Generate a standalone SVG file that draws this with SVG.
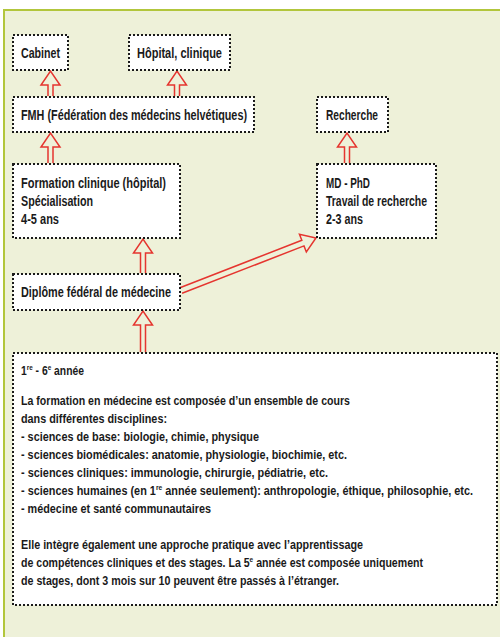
<svg xmlns="http://www.w3.org/2000/svg" width="500" height="637" viewBox="0 0 500 637">
<style>
.bg{fill:#eef1d9;stroke:#b2c63c;stroke-width:2}
.box{fill:#ffffff;stroke:#1a1a1a;stroke-width:2;stroke-dasharray:2 2}
.t{font-family:"Liberation Sans",Arial,sans-serif;font-weight:bold;font-size:14px;fill:#1a1a1a}
.b{font-family:"Liberation Sans",Arial,sans-serif;font-weight:bold;font-size:13px;fill:#1a1a1a}
.sup{font-size:8px;baseline-shift:5px}
.arr{fill:none;stroke:#e5352f;stroke-width:1.5;stroke-linejoin:miter}
</style>
<rect class="bg" x="4" y="10" width="520" height="650"/>
<g id="connectors">
<path class="arr" d="M48,96 L48,85 L41,85 L50.5,71 L60,85 L53,85 L53,96"/>
<path class="arr" d="M174.5,96 L174.5,85 L167.5,85 L177,71 L186.5,85 L179.5,85 L179.5,96"/>
<path class="arr" d="M48,163 L48,147 L41,147 L50.5,133 L60,147 L53,147 L53,163"/>
<path class="arr" d="M344.5,163 L344.5,147 L337.5,147 L347,133 L356.5,147 L349.5,147 L349.5,163"/>
<path class="arr" d="M140.5,273 L140.5,253 L133.5,253 L143,239 L152.5,253 L145.5,253 L145.5,273"/>
<path class="arr" d="M140.5,352 L140.5,325 L133.5,325 L143,311 L152.5,325 L145.5,325 L145.5,352"/>
<path class="arr" transform="translate(181,290.5) rotate(-21.25)" d="M0,-3 L130.8,-3 L130.8,-9.5 L144.8,0 L130.8,9.5 L130.8,3 L0,3"/>
</g>
<g id="cabinet">
<rect class="box" x="13" y="35" width="55" height="35"/>
<text class="t" x="21" y="58" textLength="39" lengthAdjust="spacingAndGlyphs">Cabinet</text>
</g>
<g id="hopital">
<rect class="box" x="129" y="35" width="101" height="35"/>
<text class="t" x="137" y="58" textLength="85" lengthAdjust="spacingAndGlyphs">Hôpital, clinique</text>
</g>
<g id="fmh">
<rect class="box" x="13" y="97" width="241" height="35"/>
<text class="t" x="21" y="120" textLength="226" lengthAdjust="spacingAndGlyphs">FMH (Fédération des médecins helvétiques)</text>
</g>
<g id="recherche">
<rect class="box" x="317" y="97" width="71" height="35"/>
<text class="t" x="326" y="120" textLength="52" lengthAdjust="spacingAndGlyphs">Recherche</text>
</g>
<g id="formation">
<rect class="box" x="13" y="164" width="167" height="74"/>
<text class="t" x="21" y="188" textLength="145" lengthAdjust="spacingAndGlyphs">Formation clinique (hôpital)</text>
<text class="t" x="21" y="206" textLength="72" lengthAdjust="spacingAndGlyphs">Spécialisation</text>
<text class="t" x="21" y="224" textLength="38" lengthAdjust="spacingAndGlyphs">4-5 ans</text>
</g>
<g id="mdphd">
<rect class="box" x="317" y="164" width="119" height="74"/>
<text class="t" x="326" y="188" textLength="44" lengthAdjust="spacingAndGlyphs">MD - PhD</text>
<text class="t" x="326" y="206" textLength="101" lengthAdjust="spacingAndGlyphs">Travail de recherche</text>
<text class="t" x="326" y="224" textLength="37" lengthAdjust="spacingAndGlyphs">2-3 ans</text>
</g>
<g id="diplome">
<rect class="box" x="13" y="274" width="167" height="36"/>
<text class="t" x="21" y="297" textLength="150" lengthAdjust="spacingAndGlyphs">Diplôme fédéral de médecine</text>
</g>
<g id="annees">
<rect class="box" x="13" y="353" width="484" height="252"/>
<text class="b" x="21" y="375" textLength="63" lengthAdjust="spacingAndGlyphs">1<tspan class="sup">re</tspan> - 6<tspan class="sup">e</tspan> année</text>
<text class="b" x="21" y="405" textLength="329" lengthAdjust="spacingAndGlyphs">La formation en médecine est composée d’un ensemble de cours</text>
<text class="b" x="21" y="423" textLength="146" lengthAdjust="spacingAndGlyphs">dans différentes disciplines:</text>
<text class="b" x="21" y="441" textLength="238" lengthAdjust="spacingAndGlyphs">- sciences de base: biologie, chimie, physique</text>
<text class="b" x="21" y="459" textLength="326" lengthAdjust="spacingAndGlyphs">- sciences biomédicales: anatomie, physiologie, biochimie, etc.</text>
<text class="b" x="21" y="477" textLength="307" lengthAdjust="spacingAndGlyphs">- sciences cliniques: immunologie, chirurgie, pédiatrie, etc.</text>
<text class="b" x="21" y="495" textLength="452" lengthAdjust="spacingAndGlyphs">- sciences humaines (en 1<tspan class="sup">re</tspan> année seulement): anthropologie, éthique, philosophie, etc.</text>
<text class="b" x="21" y="513" textLength="190" lengthAdjust="spacingAndGlyphs">- médecine et santé communautaires</text>
<text class="b" x="21" y="549" textLength="342" lengthAdjust="spacingAndGlyphs">Elle intègre également une approche pratique avec l’apprentissage</text>
<text class="b" x="21" y="567" textLength="402" lengthAdjust="spacingAndGlyphs">de compétences cliniques et des stages. La 5<tspan class="sup">e</tspan> année est composée uniquement</text>
<text class="b" x="21" y="585" textLength="318" lengthAdjust="spacingAndGlyphs">de stages, dont 3 mois sur 10 peuvent être passés à l’étranger.</text>
</g>
</svg>
